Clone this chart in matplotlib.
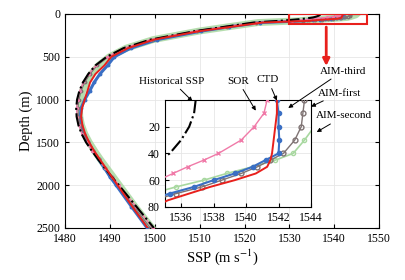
import matplotlib
matplotlib.use("Agg")
import matplotlib.pyplot as plt
from matplotlib.patches import Rectangle

plt.rcParams['font.family'] = ['Liberation Serif', 'DejaVu Serif']
plt.rcParams['mathtext.fontset'] = 'stix'

# depth grid (m): shallow part (inset) + deep part
depth_shallow = [0, 10, 20, 30, 40, 45, 50, 55, 60, 65, 70, 75, 80]
depth_deep = [100, 150, 200, 300, 400, 500, 600, 700, 800, 900, 1000, 1100, 1200,
              1300, 1400, 1500, 1600, 1700, 1800, 1900, 2000, 2250, 2500]

# sound speed (m/s)
hist_shallow = [1536.9, 1536.8, 1536.5, 1536.0, 1535.3, 1534.7, 1534.0, 1533.2, 1532.3, 1531.3, 1530.2, 1529.0, 1527.8]
hist_deep = [1522, 1515.5, 1509, 1499, 1493, 1489.3, 1486.8, 1485.2, 1484.0, 1483.2, 1482.7, 1482.5,
             1482.6, 1483.0, 1483.7, 1484.7, 1486.0, 1487.4, 1488.9, 1490.4, 1492.0, 1495.9, 1499.8]

sor_shallow = [1541.3, 1541.1, 1540.5, 1539.7, 1538.3, 1537.4, 1536.4, 1535.5, 1534.6, 1533.6, 1532.6, 1531.6, 1530.6]
sor_deep = [1522, 1515.5, 1509, 1499, 1493.1, 1489.4, 1486.9, 1485.3, 1484.1, 1483.3, 1482.8, 1482.6,
            1482.7, 1483.1, 1483.8, 1484.8, 1486.1, 1487.5, 1489.0, 1490.5, 1492.0, 1495.8, 1499.6]

ctd_shallow = [1541.9, 1541.9, 1541.8, 1541.7, 1541.6, 1541.5, 1541.3, 1540.6, 1539.3, 1537.8, 1536.5, 1535.2, 1534.3]
ctd_deep = [1524, 1517, 1510, 1499.8, 1494, 1490.3, 1488.8, 1486.8, 1485.6, 1485.0, 1484.4, 1483.8,
            1483.6, 1483.9, 1484.5, 1485.4, 1486.5, 1487.8, 1489.1, 1490.4, 1491.7, 1495.0, 1498.4]

aim1_shallow = [1543.6, 1543.5, 1543.4, 1543.0, 1542.3, 1541.5, 1540.7, 1539.7, 1538.5, 1537.3, 1535.7, 1534.3, 1533.0]
aim1_deep = [1522.5, 1516, 1509.5, 1499.4, 1493.4, 1489.7, 1487.2, 1485.6, 1484.4, 1483.6, 1483.1, 1482.9,
             1483.0, 1483.4, 1484.1, 1485.1, 1486.3, 1487.6, 1489.0, 1490.4, 1491.8, 1495.4, 1499.0]

aim2_shallow = [1545.0, 1544.8, 1544.2, 1543.6, 1542.9, 1541.8, 1540.4, 1538.8, 1537.4, 1535.7, 1534.2, 1533.0, 1532.0]
aim2_deep = [1523, 1516.3, 1509.8, 1499.6, 1493.6, 1489.9, 1487.5, 1485.9, 1484.7, 1483.9, 1483.4, 1483.2,
             1483.3, 1483.7, 1484.4, 1485.4, 1486.6, 1487.9, 1489.3, 1490.7, 1492.1, 1495.6, 1499.4]

aim3_shallow = [1541.9, 1542.0, 1542.0, 1542.05, 1542.0, 1541.2, 1540.4, 1539.3, 1538.0, 1536.8, 1535.3, 1534.0, 1533.0]
aim3_deep = [1523.5, 1516.5, 1510.3, 1500.5, 1494.6, 1491.0, 1489.5, 1487.8, 1486.5, 1485.5, 1484.4, 1483.6,
             1483.4, 1483.5, 1484.2, 1485.2, 1486.3, 1487.5, 1488.8, 1490.0, 1491.4, 1494.8, 1498.3]

depth = depth_shallow + depth_deep
series = {
    'hist': hist_shallow + hist_deep,
    'sor': sor_shallow + sor_deep,
    'ctd': ctd_shallow + ctd_deep,
    'aim1': aim1_shallow + aim1_deep,
    'aim2': aim2_shallow + aim2_deep,
    'aim3': aim3_shallow + aim3_deep,
}

c_green = '#a8d8a0'
c_gray = '#7f7373'
c_blue = '#3a6fc4'
c_pink = '#f07aa8'
c_red = '#e8201c'

fig = plt.figure(figsize=(4.06, 2.8), dpi=100)
ax = fig.add_axes([0.160, 0.186, 0.774, 0.764])

ax.plot(series['aim2'], depth, color=c_green, lw=5, alpha=0.85, zorder=2)
ax.plot(series['aim3'], depth, color=c_blue, lw=2.2, marker='o', ms=1.8, zorder=3)
ax.plot(series['aim1'], depth, color=c_gray, lw=0.8, marker='o', ms=1.8, mfc='none', zorder=3)
ax.plot(series['sor'], depth, color=c_pink, lw=1.0, marker='x', ms=1.5, zorder=3)
ax.plot(series['hist'], depth, color='black', lw=1.5, ls='-.', zorder=4)
ax.plot(series['ctd'], depth, color=c_red, lw=1.4, zorder=5)

ax.set_xlim(1480, 1550)
ax.set_ylim(2500, 0)
ax.set_xticks(range(1480, 1551, 10))
ax.set_yticks(range(0, 2501, 500))
ax.grid(True, color='#e6e6e6', lw=0.6)
ax.tick_params(direction='in', labelsize=8.5, top=True, right=True, length=3)
ax.set_xlabel('SSP (m s$^{-1}$)', fontsize=10.5, labelpad=2)
ax.set_ylabel('Depth (m)', fontsize=10.5, labelpad=2)

# zoom box and arrow
ax.add_patch(Rectangle((1530, 0), 17.3, 120, fill=False, edgecolor=c_red, lw=1.5, zorder=6))
ax.annotate('', xy=(1538.2, 640), xytext=(1538.2, 120),
            arrowprops=dict(arrowstyle='-|>', color=c_red, lw=2, mutation_scale=10), zorder=6)

# inset
ax_in = fig.add_axes([0.406, 0.261, 0.360, 0.382])
ax_in.plot(aim2_shallow, depth_shallow, color=c_green, lw=1.2, marker='o', ms=3, mfc='none', zorder=2)
ax_in.plot(aim1_shallow, depth_shallow, color=c_gray, lw=1.0, marker='o', ms=3.5, mfc='none', zorder=3)
ax_in.plot(aim3_shallow, depth_shallow, color=c_blue, lw=1.5, marker='o', ms=3, zorder=4)
ax_in.plot(sor_shallow, depth_shallow, color=c_pink, lw=1.0, marker='x', ms=3, zorder=3)
ax_in.plot(hist_shallow, depth_shallow, color='black', lw=1.5, ls='-.', zorder=4)
ax_in.plot(ctd_shallow, depth_shallow, color=c_red, lw=1.4, zorder=5)
ax_in.set_xlim(1535, 1544)
ax_in.set_ylim(80, 0)
ax_in.set_xticks(range(1536, 1545, 2))
ax_in.set_yticks([20, 40, 60, 80])
ax_in.grid(True, color='#e6e6e6', lw=0.6)
ax_in.tick_params(direction='in', labelsize=8.5, length=3)

labels = [
    ('Historical SSP', (172, 199), (1536.7, 1)),
    ('SOR', (238, 199), (1540.6, 8)),
    ('CTD', (268, 200), (1541.9, 0.5)),
    ('AIM-third', (343, 209), (1542.6, 6)),
    ('AIM-first', (340, 187), (1544.0, 5)),
    ('AIM-second', (344, 164), (1544.35, 24)),
]
for txt, pos, tip in labels:
    ax_in.annotate(txt, xy=tip, xycoords='data', xytext=pos, textcoords='figure pixels',
                   fontsize=8, ha='center', va='center', annotation_clip=False,
                   arrowprops=dict(arrowstyle='-|>', color='black', lw=0.7, mutation_scale=6,
                                   shrinkA=1, shrinkB=0))

fig.savefig('out.png', dpi=100)
